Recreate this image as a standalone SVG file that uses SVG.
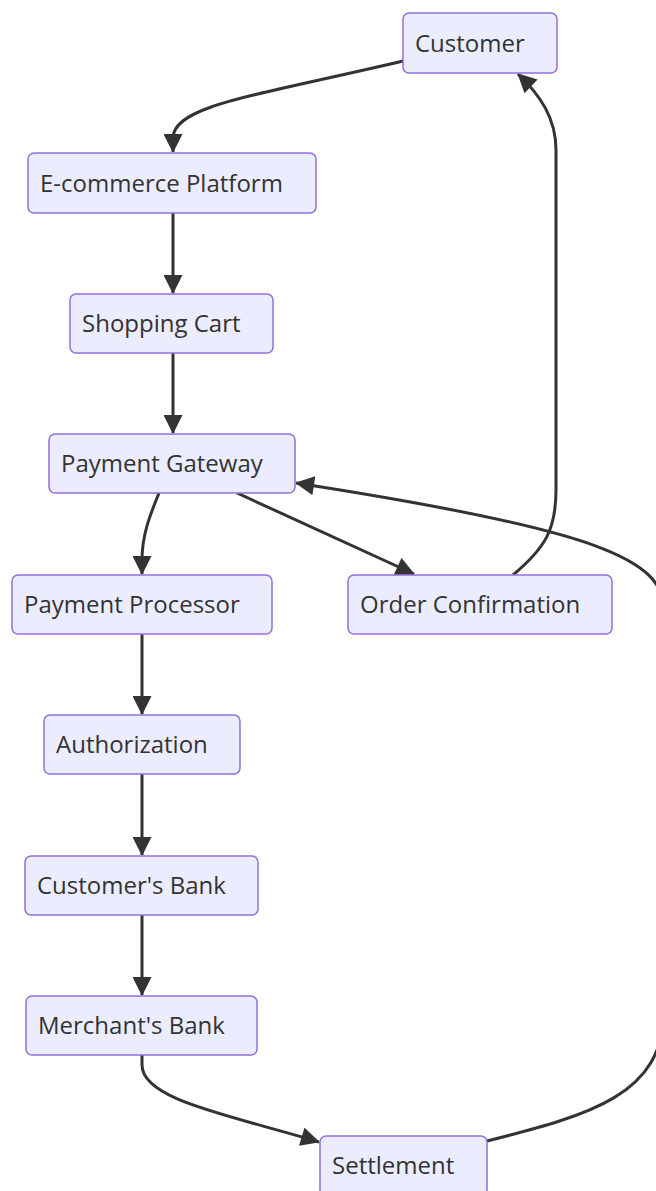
<svg xmlns="http://www.w3.org/2000/svg" width="656" height="1191" viewBox="0 0 656 1191">
  <style>
    .node rect { fill: #ECECFF; stroke: #9370DB; stroke-width: 1.5; }
    .node text { font-family: "Open Sans", "Noto Sans", sans-serif; font-size: 24px; fill: #333333; }
    .edge { fill: none; stroke: #333333; stroke-width: 3; }
  </style>
  <defs>
    <marker id="arrow" viewBox="0 0 10 10" refX="9.5" refY="5" markerUnits="userSpaceOnUse" markerWidth="20" markerHeight="19" orient="auto">
      <path d="M0,0 L10,5 L0,10 z" fill="#333333"/>
    </marker>
  </defs>
  <rect width="656" height="1191" fill="#FFFFFF"/>

  <g id="connectors">
    <path class="edge" marker-end="url(#arrow)" d="M403,61 C260,95 173,105 173,138 L173,152"/>
    <path class="edge" marker-end="url(#arrow)" d="M173,213 L173,293"/>
    <path class="edge" marker-end="url(#arrow)" d="M173,353 L173,433"/>
    <path class="edge" marker-end="url(#arrow)" d="M159,493 C150,515 142,535 142,560 L142,574"/>
    <path class="edge" marker-end="url(#arrow)" d="M237,493 L414,574"/>
    <path class="edge" marker-end="url(#arrow)" d="M513,575 C545,548 556,530 556,490 L556,150 C556,118 540,95 518,74"/>
    <path class="edge" marker-end="url(#arrow)" d="M142,634 L142,714"/>
    <path class="edge" marker-end="url(#arrow)" d="M142,774 L142,855"/>
    <path class="edge" marker-end="url(#arrow)" d="M142,915 L142,995"/>
    <path class="edge" marker-end="url(#arrow)" d="M142,1055 L142,1065 C142,1100 230,1115 319,1142"/>
    <path class="edge" marker-end="url(#arrow)" d="M487,1141 C590,1115 664,1095 664,1010 L664,610 C664,560 600,530 296,483"/>
  </g>

  <g id="customer" class="node">
    <rect x="403" y="13" width="154" height="60" rx="6"/>
    <text x="415" y="52">Customer</text>
  </g>
  <g id="ecommerce-platform" class="node">
    <rect x="28" y="153" width="288" height="60" rx="6"/>
    <text x="40" y="192">E-commerce Platform</text>
  </g>
  <g id="shopping-cart" class="node">
    <rect x="70" y="294" width="203" height="59" rx="6"/>
    <text x="82" y="332">Shopping Cart</text>
  </g>
  <g id="payment-gateway" class="node">
    <rect x="49" y="434" width="246" height="59" rx="6"/>
    <text x="61" y="472">Payment Gateway</text>
  </g>
  <g id="payment-processor" class="node">
    <rect x="12" y="575" width="260" height="59" rx="6"/>
    <text x="24" y="613">Payment Processor</text>
  </g>
  <g id="order-confirmation" class="node">
    <rect x="348" y="575" width="264" height="59" rx="6"/>
    <text x="360" y="613">Order Confirmation</text>
  </g>
  <g id="authorization" class="node">
    <rect x="44" y="715" width="196" height="59" rx="6"/>
    <text x="56" y="753">Authorization</text>
  </g>
  <g id="customers-bank" class="node">
    <rect x="25" y="856" width="233" height="59" rx="6"/>
    <text x="37" y="894">Customer's Bank</text>
  </g>
  <g id="merchants-bank" class="node">
    <rect x="26" y="996" width="231" height="59" rx="6"/>
    <text x="38" y="1034">Merchant's Bank</text>
  </g>
  <g id="settlement" class="node">
    <rect x="320" y="1136" width="167" height="60" rx="6"/>
    <text x="332" y="1174">Settlement</text>
  </g>
</svg>
